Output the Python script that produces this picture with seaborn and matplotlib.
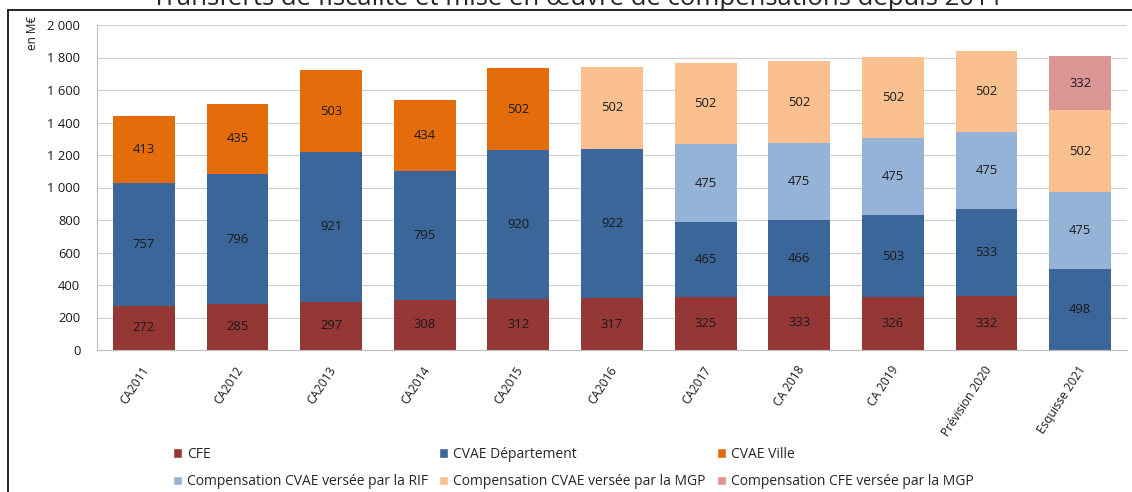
import numpy as np
import pandas as pd
import matplotlib
matplotlib.use("Agg")
import matplotlib.pyplot as plt
import matplotlib.transforms as mtransforms
import seaborn as sns
from matplotlib.patches import Patch
from matplotlib.lines import Line2D

# Données (en M€)
annees = ["CA2011", "CA2012", "CA2013", "CA2014", "CA2015", "CA2016",
          "CA2017", "CA 2018", "CA 2019", "Prévision 2020", "Esquisse 2021"]
cfe = [272, 285, 297, 308, 312, 317, 325, 333, 326, 332, 0]
cvae_dep = [757, 796, 921, 795, 920, 922, 465, 466, 503, 533, 498]
cvae_ville = [413, 435, 503, 434, 502, 0, 0, 0, 0, 0, 0]
comp_rif = [0, 0, 0, 0, 0, 0, 475, 475, 475, 475, 475]
comp_cvae_mgp = [0, 0, 0, 0, 0, 502, 502, 502, 502, 502, 502]
comp_cfe_mgp = [0, 0, 0, 0, 0, 0, 0, 0, 0, 0, 332]

series = [
    ("CFE", cfe, "#953735"),
    ("CVAE Département", cvae_dep, "#3A6699"),
    ("CVAE Ville", cvae_ville, "#E46C0A"),
    ("Compensation CVAE versée par la RIF", comp_rif, "#95B3D7"),
    ("Compensation CVAE versée par la MGP", comp_cvae_mgp, "#FAC090"),
    ("Compensation CFE versée par la MGP", comp_cfe_mgp, "#D99694"),
]

sns.set_theme(style="white")
plt.rcParams['font.family'] = ['Open Sans', 'DejaVu Sans']

fig = plt.figure(figsize=(11.32, 4.92), dpi=100)
ax = fig.add_axes([97 / 1132, 1 - 350 / 492, 1030 / 1132, 325 / 492])

bas = np.zeros(len(annees))
for nom, vals, couleur in series:
    df = pd.DataFrame({"annee": annees, "valeur": vals})
    sns.barplot(data=df, x="annee", y="valeur", color=couleur, width=0.66,
                bottom=bas.copy(), saturation=1, linewidth=0, ax=ax)
    cont = ax.containers[-1]
    labels = [str(v) if v > 0 else "" for v in vals]
    ax.bar_label(cont, labels=labels, label_type="center", fontsize=9.4,
                 color="#1a1a1a")
    bas += np.array(vals)

ax.set_ylim(0, 2000)
ax.set_xlim(-0.5, len(annees) - 0.5)
ax.set_yticks(range(0, 2001, 200))
ax.set_yticklabels([f"{v:,}".replace(",", " ") for v in range(0, 2001, 200)],
                   fontsize=9.4, color="#1a1a1a")
ax.yaxis.grid(True, color="#D0D0D0", linewidth=0.8)
ax.set_axisbelow(True)
ax.set_xlabel("")
ax.set_ylabel("")
for s in ["top", "right"]:
    ax.spines[s].set_visible(False)
for s in ["left", "bottom"]:
    ax.spines[s].set_color("#BFBFBF")
    ax.spines[s].set_linewidth(0.8)
ax.tick_params(axis="y", length=0, pad=12)
ax.tick_params(axis="x", length=0, pad=10)
decal = mtransforms.ScaledTranslation(-3 / 100, 0, fig.dpi_scale_trans)
for lab in ax.get_xticklabels():
    lab.set_rotation(57)
    lab.set_ha("right")
    lab.set_rotation_mode("anchor")
    lab.set_fontsize(8.6)
    lab.set_color("#1a1a1a")
    lab.set_transform(lab.get_transform() + decal)

fig.text(32 / 1132, 1 - 33 / 492, "en M€", rotation=90, fontsize=8.5,
         ha="center", va="center", color="#1a1a1a")

# titre coupé en haut
fig.text(0.51, 1 - 5 / 492, "Transferts de fiscalité et mise en œuvre de compensations depuis 2011",
         fontsize=18.5, ha="center", va="baseline")

# cadre
fig.add_artist(Line2D([8 / 1132, 1], [1 - 10 / 492] * 2, color="black", lw=1.2,
                      transform=fig.transFigure))
fig.add_artist(Line2D([8 / 1132] * 2, [0, 1 - 10 / 492], color="black", lw=1.2,
                      transform=fig.transFigure))

poignees = [Patch(facecolor=c, label=n) for n, _, c in series]
ordre = [0, 3, 1, 4, 2, 5]
fig.legend([poignees[i] for i in ordre], [poignees[i].get_label() for i in ordre],
           ncol=3, loc="center left", bbox_to_anchor=(173 / 1132, 1 - 468 / 492),
           frameon=False, fontsize=10, handlelength=0.65, handleheight=0.65,
           handletextpad=0.35, columnspacing=0.8, labelspacing=0.9,
           borderpad=0, borderaxespad=0)

fig.savefig("out.png", dpi=100)
